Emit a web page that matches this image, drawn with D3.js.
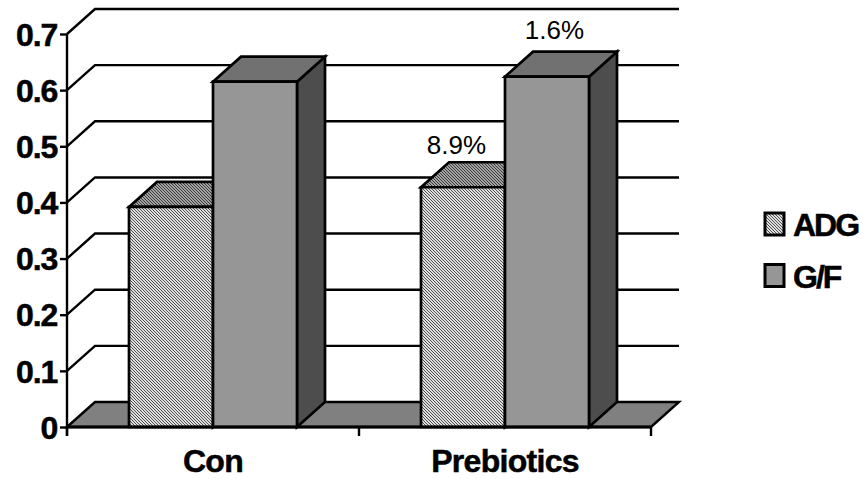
<!DOCTYPE html>
<html><head><meta charset="utf-8">
<script src="https://cdn.jsdelivr.net/npm/d3@7"></script>
<style>html,body{margin:0;padding:0;background:#fff}svg{display:block}text{font-family:"Liberation Sans",Arial,sans-serif}</style>
</head><body><svg id="c" width="863" height="479"></svg>
<script>
const categories = ["Con", "Prebiotics"];
const seriesNames = ["ADG", "G/F"];
const adgValues = [0.392, 0.427];
const gfValues = [0.615, 0.624];
const notes = ["8.9%", "1.6%"];
const yTicks = [0, 0.1, 0.2, 0.3, 0.4, 0.5, 0.6, 0.7];

const svg = d3.select("#c");
const dx = 28, dy = 25;
const y = d3.scaleLinear().domain([0, 0.7]).range([427, 34]);
const x = d3.scaleBand().domain(categories).range([67, 651]);
const inner = d3.scaleBand().domain(seriesNames).range([62, 230]);

const defs = svg.append("defs");
function dither(id, bg, fg) {
  const p = defs.append("pattern").attr("id", id).attr("patternUnits", "userSpaceOnUse")
    .attr("width", 3).attr("height", 3);
  p.append("rect").attr("width", 3).attr("height", 3).attr("fill", bg);
  [0, 1, 2].forEach(a => p.append("rect").attr("x", a).attr("y", a).attr("width", 1).attr("height", 1).attr("fill", fg));
}
dither("frontDither", "#dedede", "#505050");
dither("topDither", "#a4a4a4", "#383838");

const styles = {
  "ADG": {front: "url(#frontDither)", top: "url(#topDither)", side: "#4d4d4d"},
  "G/F": {front: "#969696", top: "#717171", side: "#4d4d4d"}
};
const line = d3.line();
const poly = pts => line(pts) + "Z";
const ink = 2.4;

// gridlines on the back and side walls
const grid = svg.append("g").attr("fill", "none").attr("stroke", "#000").attr("stroke-width", ink);
yTicks.slice(1).forEach(t => {
  grid.append("path").attr("d", line([[67, y(t)], [67 + dx, y(t) - dy], [651 + dx, y(t) - dy]]));
});

// floor
svg.append("path").attr("d", poly([[67, y(0)], [67 + dx, y(0) - dy], [651 + dx, y(0) - dy], [651, y(0)]]))
  .attr("fill", "#808080").attr("stroke", "#000").attr("stroke-width", ink);

// bars
const bars = svg.append("g").attr("stroke", "#000").attr("stroke-width", ink + 0.3).attr("stroke-linejoin", "miter");
[adgValues, gfValues].forEach((vals, si) => {
  const name = seriesNames[si], st = styles[name];
  categories.forEach((c, i) => {
    const l = x(c) + inner(name), r = l + inner.bandwidth(), t = y(vals[i]), b = y(0);
    bars.append("path").attr("d", poly([[r, b], [r + dx, b - dy], [r + dx, t - dy], [r, t]])).attr("fill", st.side);
    bars.append("path").attr("d", poly([[l, t], [l + dx, t - dy], [r + dx, t - dy], [r, t]])).attr("fill", st.top);
    bars.append("path").attr("d", poly([[l, b], [l, t], [r, t], [r, b]])).attr("fill", st.front);
  });
});

// axes
const yAxis = d3.axisLeft(y).tickValues(yTicks).tickSize(7).tickPadding(3).tickFormat(d => d === 0 ? "0" : d3.format(".1f")(d));
const gy = svg.append("g").attr("transform", "translate(67,0)").call(yAxis);
gy.select(".domain").attr("stroke", "#000").attr("stroke-width", ink).attr("d", "M0,34V436");
gy.selectAll(".tick line").attr("stroke", "#000").attr("stroke-width", ink);
gy.selectAll(".tick text").attr("font-family", '"Liberation Sans",Arial,sans-serif')
  .attr("font-size", 32).attr("font-weight", "bold").attr("letter-spacing", -1.2).attr("fill", "#000")
  .attr("stroke", "#000").attr("stroke-width", 0.5).attr("dy", "0.35em");

const gx = svg.append("g").attr("transform", "translate(0,427)")
  .call(d3.axisBottom(x).tickSize(0).tickPadding(22));
gx.select(".domain").attr("stroke", "#000").attr("stroke-width", 3).attr("d", "M67,0H651");
gx.selectAll(".tick text").attr("font-family", '"Liberation Sans",Arial,sans-serif')
  .attr("font-size", 32).attr("font-weight", "bold").attr("letter-spacing", -0.7).attr("fill", "#000")
  .attr("stroke", "#000").attr("stroke-width", 0.5);
const boundaries = [x.range()[0], x(categories[1]), x.range()[1]];
svg.append("g").selectAll("line").data(boundaries).join("line")
  .attr("x1", d => d).attr("x2", d => d).attr("y1", 427).attr("y2", 436)
  .attr("stroke", "#000").attr("stroke-width", ink);

// annotations above the Prebiotics bars
const noteOffsets = [{tx: -6.5, ty: -33}, {tx: 7.5, ty: -38}];
notes.forEach((n, i) => {
  const name = seriesNames[i], vals = [adgValues, gfValues][i];
  svg.append("text").text(n).attr("text-anchor", "middle")
    .attr("x", x(categories[1]) + inner(name) + inner.bandwidth() / 2 + noteOffsets[i].tx)
    .attr("y", y(vals[1]) + noteOffsets[i].ty)
    .attr("font-size", 26).attr("fill", "#000");
});

// legend
const legendY = d3.scalePoint().domain(seriesNames).range([224, 275.5]);
seriesNames.forEach(n => {
  svg.append("rect").attr("x", 765).attr("y", legendY(n) - 11).attr("width", 19).attr("height", 22)
    .attr("fill", styles[n].front).attr("stroke", "#000").attr("stroke-width", 3);
  svg.append("text").text(n).attr("x", 793).attr("y", legendY(n) + 12)
    .attr("font-size", 32).attr("font-weight", "bold").attr("letter-spacing", -2).attr("fill", "#000")
    .attr("stroke", "#000").attr("stroke-width", 0.5);
});
</script></body></html>
